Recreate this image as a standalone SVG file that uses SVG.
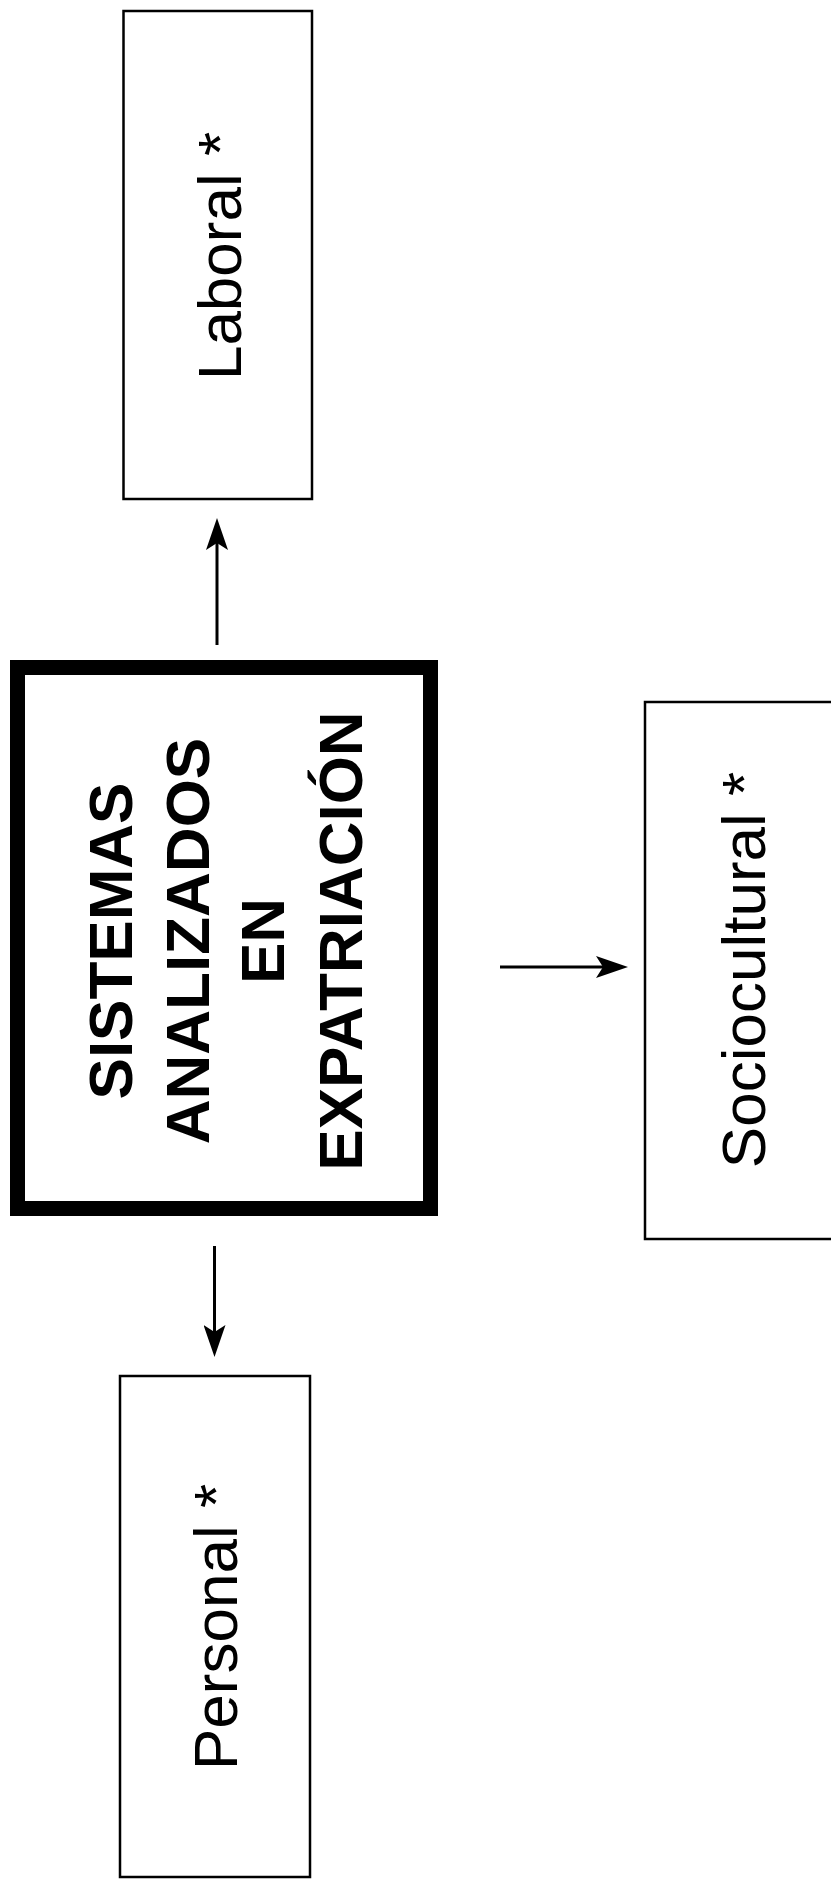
<svg xmlns="http://www.w3.org/2000/svg" width="831" height="1887" viewBox="0 0 831 1887">
  <style>
    .box { fill: #fff; stroke: #000; stroke-width: 2.5; }
    .main { fill: #fff; stroke: #000; stroke-width: 15; }
    .lbl { font-family: "Liberation Sans", Arial, sans-serif; font-size: 62px; fill: #000; text-anchor: middle; }
    .ttl { font-family: "Liberation Sans", Arial, sans-serif; font-size: 62px; font-weight: bold; fill: #000; text-anchor: middle; }
    .conn { stroke: #000; stroke-width: 3; fill: none; marker-end: url(#arrow); }
  </style>
  <defs>
    <marker id="arrow" viewBox="0 0 32 22" refX="22" refY="11" markerWidth="32" markerHeight="22" orient="auto" markerUnits="userSpaceOnUse">
      <path d="M0,0 L32,11 L0,22 L7,11 Z" fill="#000"/>
    </marker>
  </defs>
  <rect width="831" height="1887" fill="#fff"/>

  <!-- central node -->
  <g id="sistemas">
    <rect class="main" x="17.5" y="667.5" width="413" height="541"/>
    <text class="ttl" transform="translate(132,941) rotate(-90)">SISTEMAS</text>
    <text class="ttl" transform="translate(209,941) rotate(-90)">ANALIZADOS</text>
    <text class="ttl" transform="translate(284,941) rotate(-90)">EN</text>
    <text class="ttl" transform="translate(362,941) rotate(-90)">EXPATRIACIÓN</text>
  </g>

  <!-- outer systems -->
  <g id="laboral">
    <rect class="box" x="123.5" y="11" width="188.5" height="488"/>
    <text class="lbl" transform="translate(241,256) rotate(-90)">Laboral *</text>
  </g>
  <g id="sociocultural">
    <rect class="box" x="645" y="702" width="230" height="537"/>
    <text class="lbl" transform="translate(765,970) rotate(-90)">Sociocultural *</text>
  </g>
  <g id="personal">
    <rect class="box" x="120" y="1376" width="190" height="501"/>
    <text class="lbl" transform="translate(237,1627) rotate(-90)">Personal *</text>
  </g>

  <!-- connectors -->
  <g id="connectors">
    <line class="conn" x1="217" y1="645" x2="217" y2="528"/>
    <line class="conn" x1="500" y1="967" x2="618" y2="967"/>
    <line class="conn" x1="214.5" y1="1246" x2="214.5" y2="1347"/>
  </g>
</svg>
